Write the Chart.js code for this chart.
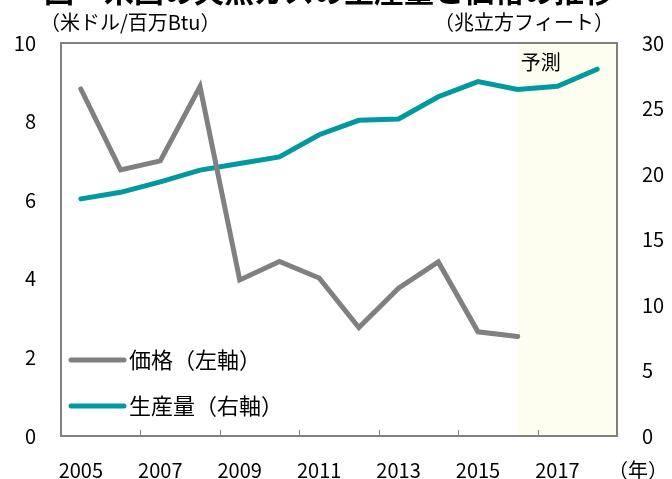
<!DOCTYPE html>
<html>
<head>
<meta charset="utf-8">
<script src="https://cdn.jsdelivr.net/npm/chart.js@4.4.0/dist/chart.umd.min.js"></script>
<style>
  html, body { margin: 0; padding: 0; background: #fff; }
  #wrap { width: 672px; height: 479px; }
</style>
</head>
<body>
<div id="wrap"><canvas id="chart" width="672" height="479"></canvas></div>
<script>
"use strict";

const years = ['2005', '2006', '2007', '2008', '2009', '2010', '2011', '2012', '2013', '2014', '2015', '2016', '2017', '2018'];
const price = [8.83, 6.77, 7.0, 8.89, 3.97, 4.44, 4.02, 2.76, 3.76, 4.43, 2.65, 2.53, null, null];
const production = [18.1, 18.6, 19.4, 20.3, 20.8, 21.3, 23.0, 24.1, 24.2, 25.9, 27.05, 26.45, 26.7, 28.0];
const seriesNames = ['価格（左軸）', '生産量（右軸）'];
const forecastStart = '2016';
const forecastLabel = '予測';
const titleText = '図　米国の天然ガスの生産量と価格の推移';
const leftUnit = '（米ドル/百万Btu）';
const rightUnit = '（兆立方フィート）';
const yearUnit = '（年）';

const FONT = '"Noto Sans CJK JP", "Noto Sans", sans-serif';
const GRAY = '#808080';
const TEAL = '#00999f';

const decorations = {
    id: 'decorations',
    beforeDatasetsDraw(chart) {
        const { ctx, chartArea, scales } = chart;
        const x0 = scales.x.getPixelForValue(years.indexOf(forecastStart));
        ctx.save();
        ctx.fillStyle = '#fefef0';
        ctx.fillRect(x0, chartArea.top, chartArea.right - x0, chartArea.bottom - chartArea.top);
        ctx.fillStyle = '#000';
        ctx.font = '20px ' + FONT;
        ctx.textBaseline = 'middle';
        ctx.textAlign = 'left';
        ctx.fillText(forecastLabel, x0 + 3, chartArea.top + 19);
        ctx.restore();
    },
    afterDatasetsDraw(chart) {
        const { ctx, chartArea, scales } = chart;
        ctx.save();
        // frame
        ctx.strokeStyle = GRAY;
        ctx.lineWidth = 2;
        ctx.strokeRect(chartArea.left, chartArea.top, chartArea.right - chartArea.left, chartArea.bottom - chartArea.top);
        // inner tick marks every two years
        ctx.lineWidth = 1;
        for (let i = 2; i < years.length; i += 2) {
            const x = Math.round((scales.x.getPixelForTick(i) + scales.x.getPixelForTick(i - 1)) / 2) + 0.5;
            ctx.beginPath();
            ctx.moveTo(x, chartArea.bottom);
            ctx.lineTo(x, chartArea.bottom - 6);
            ctx.stroke();
        }
        // legend
        const colors = [GRAY, TEAL];
        const legendY = [360, 406];
        ctx.lineCap = 'round';
        ctx.lineWidth = 5;
        ctx.font = '22px ' + FONT;
        ctx.textBaseline = 'middle';
        ctx.textAlign = 'left';
        seriesNames.forEach((name, i) => {
            ctx.strokeStyle = colors[i];
            ctx.beginPath();
            ctx.moveTo(chartArea.left + 10, legendY[i]);
            ctx.lineTo(chartArea.left + 63, legendY[i]);
            ctx.stroke();
            ctx.fillStyle = '#000';
            ctx.fillText(name, chartArea.left + 68, legendY[i]);
        });
        // units
        ctx.font = '20px ' + FONT;
        ctx.fillText(leftUnit, 40, 22);
        ctx.textAlign = 'right';
        ctx.fillText(rightUnit, 614, 22);
        ctx.textAlign = 'left';
        ctx.fillText(yearUnit, 608, 470);
        // title, cut off by the top edge
        ctx.font = 'bold 30px ' + FONT;
        ctx.textBaseline = 'bottom';
        ctx.fillText(titleText, 44, 6);
        ctx.restore();
    }
};

new Chart(document.querySelector('#chart').getContext('2d'), {
    type: 'line',
    data: {
        labels: years,
        datasets: [{
            label: seriesNames[0],
            data: price,
            yAxisID: 'y',
            borderColor: GRAY,
            borderWidth: 5,
            pointRadius: 0,
            tension: 0,
            borderCapStyle: 'round',
            spanGaps: false
        }, {
            label: seriesNames[1],
            data: production,
            yAxisID: 'y1',
            borderColor: TEAL,
            borderWidth: 5,
            pointRadius: 0,
            tension: 0,
            borderCapStyle: 'round'
        }]
    },
    options: {
        responsive: false,
        animation: false,
        layout: { padding: { top: 43, left: 0, right: 0, bottom: 0 } },
        plugins: {
            legend: { display: false },
            tooltip: { enabled: false }
        },
        scales: {
            x: {
                offset: true,
                grid: { display: false, drawTicks: false },
                border: { display: false },
                ticks: {
                    autoSkip: false,
                    maxRotation: 0,
                    padding: 22,
                    color: '#000',
                    font: { family: FONT, size: 20 },
                    callback(value, index) { return index % 2 === 0 ? years[index] : ''; }
                },
                afterFit(scale) { scale.height = 43; }
            },
            y: {
                position: 'left',
                min: 0,
                max: 10,
                grid: { display: false, drawTicks: false },
                border: { display: false },
                ticks: {
                    stepSize: 2,
                    padding: 25,
                    color: '#000',
                    font: { family: FONT, size: 20 }
                },
                afterFit(scale) { scale.width = 61; }
            },
            y1: {
                position: 'right',
                min: 0,
                max: 30,
                grid: { display: false, drawTicks: false },
                border: { display: false },
                ticks: {
                    stepSize: 5,
                    padding: 25,
                    color: '#000',
                    font: { family: FONT, size: 20 }
                },
                afterFit(scale) { scale.width = 55; }
            }
        }
    },
    plugins: [decorations]
});
</script>
</body>
</html>
